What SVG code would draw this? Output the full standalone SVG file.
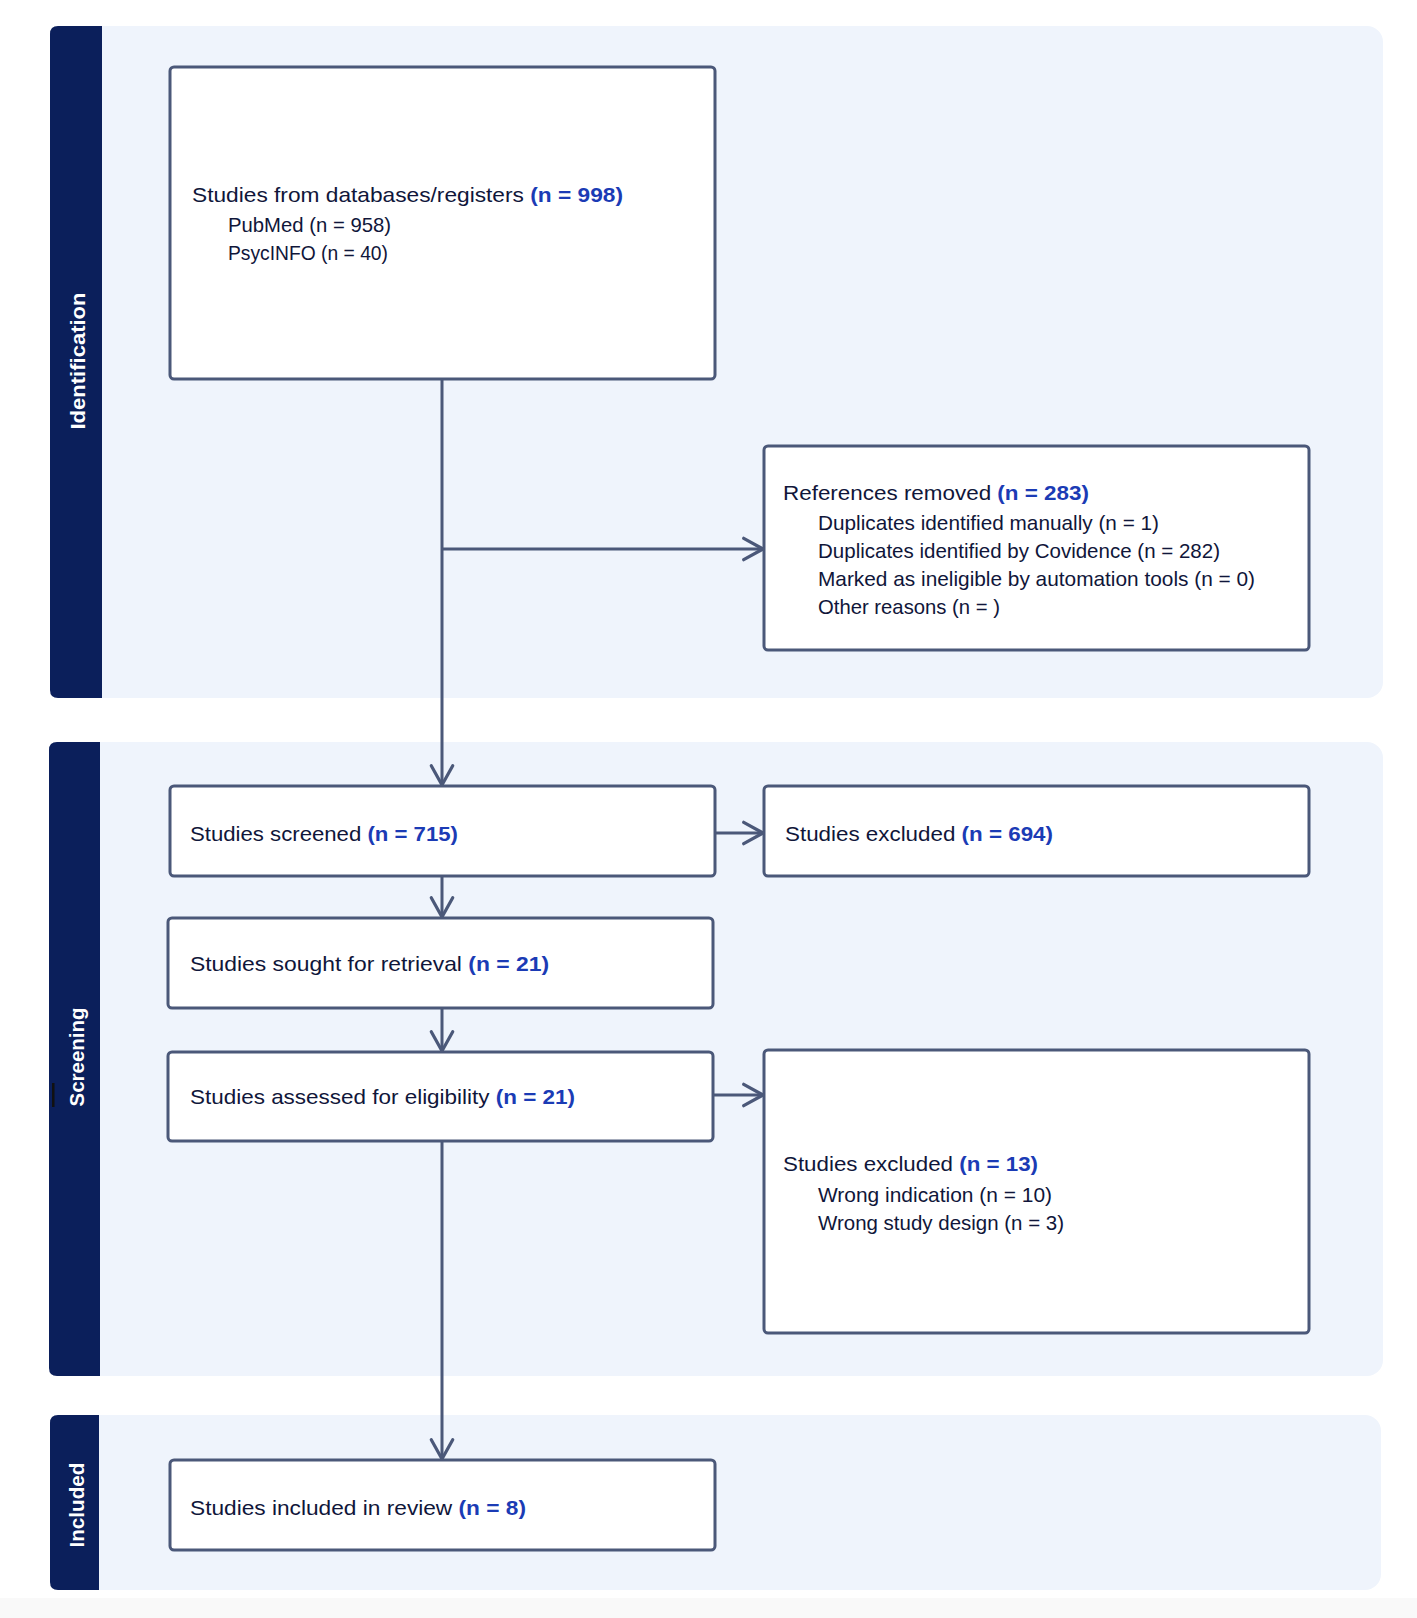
<svg xmlns="http://www.w3.org/2000/svg" width="1417" height="1618" viewBox="0 0 1417 1618">
<style>
.panel{fill:#eff4fc}
.bar{fill:#0b1f5b}
.box{fill:#ffffff;stroke:#4b5879;stroke-width:3}
.t{font-family:"Liberation Sans",Arial,sans-serif;font-size:21px;fill:#10163a}
.n{fill:#1b3bb5;font-weight:bold}
.side{font-family:"Liberation Sans",Arial,sans-serif;font-size:21px;font-weight:bold;fill:#ffffff}
.c{stroke:#4b5879;stroke-width:3;fill:none}
</style>
<defs>
<marker id="arr" markerUnits="userSpaceOnUse" markerWidth="30" markerHeight="30" viewBox="-22 -14 26 28" refX="0" refY="0" orient="auto">
<path d="M-18,-10 L0,0 L-18,10" fill="none" stroke="#4b5879" stroke-width="3" stroke-linejoin="round" stroke-linecap="round"/>
</marker>
</defs>
<rect x="0" y="0" width="1417" height="1618" fill="#ffffff"/>
<rect x="0" y="1598" width="1417" height="20" fill="#f9f9f9"/>

<g id="lane-identification">
<rect class="panel" x="50" y="26" width="1333" height="672" rx="16"/>
<path class="bar" d="M102,26 V698 H58 Q50,698 50,690 V34 Q50,26 58,26 Z"/>
<text class="side" transform="translate(85,361) rotate(-90)" text-anchor="middle" textLength="137" lengthAdjust="spacingAndGlyphs">Identification</text>
</g>
<g id="lane-screening">
<rect class="panel" x="49" y="742" width="1334" height="634" rx="16"/>
<path class="bar" d="M100,742 V1376 H57 Q49,1376 49,1368 V750 Q49,742 57,742 Z"/>
<rect x="52" y="1083" width="2.5" height="24" fill="#111111"/>
<text class="side" transform="translate(84,1057) rotate(-90)" text-anchor="middle" textLength="99" lengthAdjust="spacingAndGlyphs">Screening</text>
</g>
<g id="lane-included">
<rect class="panel" x="50" y="1415" width="1331" height="175" rx="16"/>
<path class="bar" d="M99,1415 V1590 H58 Q50,1590 50,1582 V1423 Q50,1415 58,1415 Z"/>
<text class="side" transform="translate(84,1505) rotate(-90)" text-anchor="middle" textLength="85" lengthAdjust="spacingAndGlyphs">Included</text>
</g>

<g id="connectors">
<line class="c" x1="442" y1="379" x2="442" y2="785" marker-end="url(#arr)"/>
<line class="c" x1="442" y1="549" x2="763" y2="549" marker-end="url(#arr)"/>
<line class="c" x1="715" y1="833" x2="763" y2="833" marker-end="url(#arr)"/>
<line class="c" x1="442" y1="876" x2="442" y2="917" marker-end="url(#arr)"/>
<line class="c" x1="442" y1="1008" x2="442" y2="1051" marker-end="url(#arr)"/>
<line class="c" x1="712" y1="1095" x2="763" y2="1095" marker-end="url(#arr)"/>
<line class="c" x1="442" y1="1141" x2="442" y2="1459" marker-end="url(#arr)"/>
</g>

<g id="node-databases">
<rect class="box" x="170" y="67" width="545" height="312" rx="4"/>
<text class="t" x="192" y="202" textLength="431" lengthAdjust="spacingAndGlyphs">Studies from databases/registers <tspan class="n">(n = 998)</tspan></text>
<text class="t" x="228" y="232" textLength="163" lengthAdjust="spacingAndGlyphs">PubMed (n = 958)</text>
<text class="t" x="228" y="260" textLength="160" lengthAdjust="spacingAndGlyphs">PsycINFO (n = 40)</text>
</g>
<g id="node-removed">
<rect class="box" x="764" y="446" width="545" height="204" rx="4"/>
<text class="t" x="783" y="500" textLength="306" lengthAdjust="spacingAndGlyphs">References removed <tspan class="n">(n = 283)</tspan></text>
<text class="t" x="818" y="530" textLength="341" lengthAdjust="spacingAndGlyphs">Duplicates identified manually (n = 1)</text>
<text class="t" x="818" y="558" textLength="402" lengthAdjust="spacingAndGlyphs">Duplicates identified by Covidence (n = 282)</text>
<text class="t" x="818" y="586" textLength="437" lengthAdjust="spacingAndGlyphs">Marked as ineligible by automation tools (n = 0)</text>
<text class="t" x="818" y="614" textLength="182" lengthAdjust="spacingAndGlyphs">Other reasons (n = )</text>
</g>
<g id="node-screened">
<rect class="box" x="170" y="786" width="545" height="90" rx="4"/>
<text class="t" x="190" y="841" textLength="268" lengthAdjust="spacingAndGlyphs">Studies screened <tspan class="n">(n = 715)</tspan></text>
</g>
<g id="node-excluded-694">
<rect class="box" x="764" y="786" width="545" height="90" rx="4"/>
<text class="t" x="785" y="841" textLength="268" lengthAdjust="spacingAndGlyphs">Studies excluded <tspan class="n">(n = 694)</tspan></text>
</g>
<g id="node-sought">
<rect class="box" x="168" y="918" width="545" height="90" rx="4"/>
<text class="t" x="190" y="971" textLength="359" lengthAdjust="spacingAndGlyphs">Studies sought for retrieval <tspan class="n">(n = 21)</tspan></text>
</g>
<g id="node-assessed">
<rect class="box" x="168" y="1052" width="545" height="89" rx="4"/>
<text class="t" x="190" y="1104" textLength="385" lengthAdjust="spacingAndGlyphs">Studies assessed for eligibility <tspan class="n">(n = 21)</tspan></text>
</g>
<g id="node-excluded-13">
<rect class="box" x="764" y="1050" width="545" height="283" rx="4"/>
<text class="t" x="783" y="1171" textLength="255" lengthAdjust="spacingAndGlyphs">Studies excluded <tspan class="n">(n = 13)</tspan></text>
<text class="t" x="818" y="1202" textLength="234" lengthAdjust="spacingAndGlyphs">Wrong indication (n = 10)</text>
<text class="t" x="818" y="1230" textLength="246" lengthAdjust="spacingAndGlyphs">Wrong study design (n = 3)</text>
</g>
<g id="node-included">
<rect class="box" x="170" y="1460" width="545" height="90" rx="4"/>
<text class="t" x="190" y="1515" textLength="336" lengthAdjust="spacingAndGlyphs">Studies included in review <tspan class="n">(n = 8)</tspan></text>
</g>
</svg>
